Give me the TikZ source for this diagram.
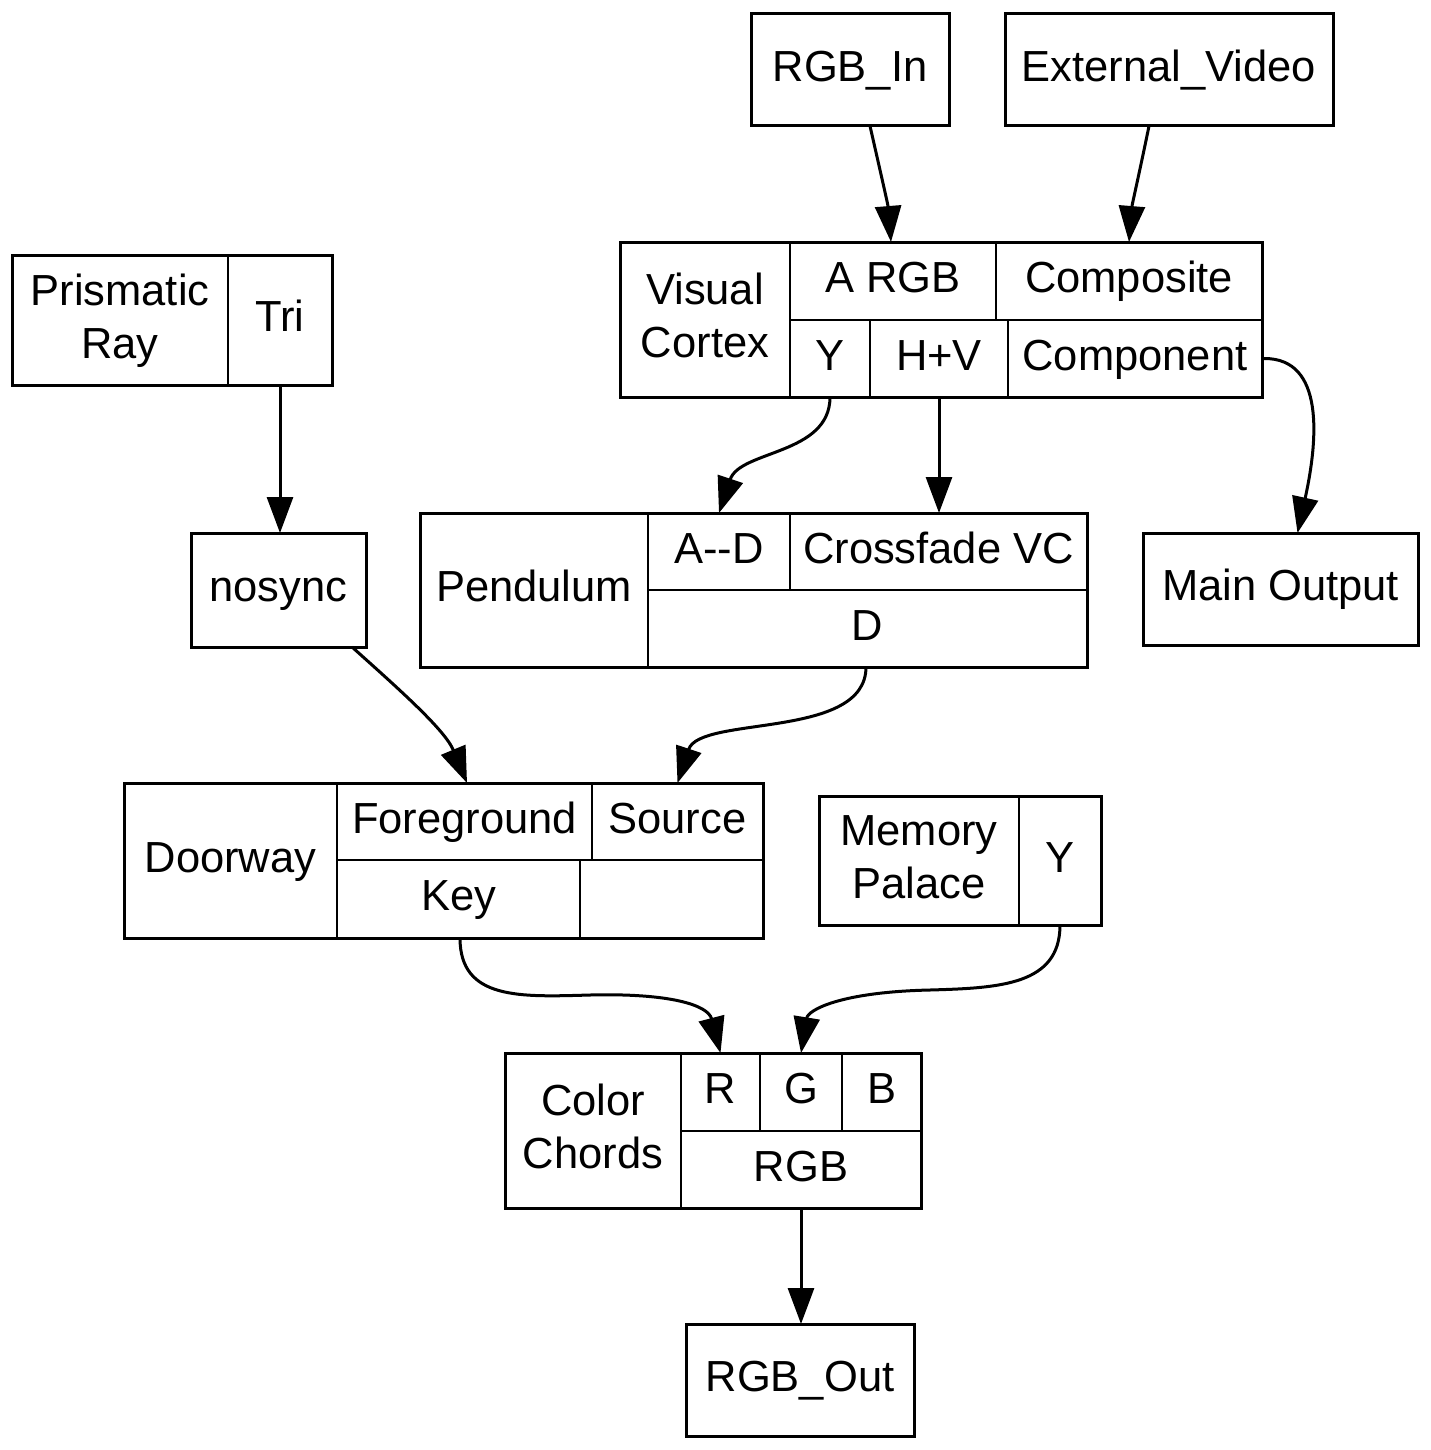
\documentclass[tikz,border=0pt]{standalone}
\usepackage{fontspec}
\setmainfont{Liberation Sans}
\usetikzlibrary{arrows.meta}
\tikzset{
 lbl/.style={inner sep=0pt, outer sep=0pt, align=center, font=\fontsize{43.5}{53}\selectfont, text height=23pt, text depth=0pt},
 two/.style={text height=76pt, text depth=0pt},
 cell/.style={lbl, draw, line width=2pt},
 box/.style={lbl, draw, line width=3pt},
 frame/.style={draw, line width=3pt},
 edge/.style={line width=3pt, -{Triangle[length=36pt,width=26pt]}},
}
\newcommand\cellat[7][]{\node[cell,#1, minimum width={(#4)-(#2)}, minimum height={(#5)-(#3)}] (#6) at ({((#2)+(#4))/2},{((#3)+(#5))/2}) {#7};}
\newcommand\boxat[6]{\node[box, minimum width={(#3)-(#1)}, minimum height={(#4)-(#2)}] (#5) at ({((#1)+(#3))/2},{((#2)+(#4))/2}) {#6};}
\begin{document}
\begin{tikzpicture}[x=1pt,y=-1pt]
\useasboundingbox (0,0) rectangle (1431,1450);
% simple boxes
\boxat{751}{14}{949}{126}{rgbin}{RGB\_In}
\boxat{1005}{14}{1333}{126}{extvid}{External\_Video}
\boxat{191}{533}{366}{647}{nosync}{nosync}
\boxat{1143}{533}{1418}{645}{mainout}{Main Output}
\boxat{686}{1324}{914}{1436}{rgbout}{RGB\_Out}
% Visual Cortex
\cellat[two]{620}{242}{790}{397}{vcL}{Visual\\Cortex}
\cellat{790}{242}{996}{320}{argb}{A RGB}
\cellat{996}{242}{1262}{320}{comp}{Composite}
\cellat{790}{320}{870}{397}{vy}{Y}
\cellat{870}{320}{1008}{397}{hv}{H+V}
\cellat{1008}{320}{1262}{397}{cpnt}{Component}
\draw[frame] (vcL.north west) rectangle (cpnt.south east);
% Prismatic Ray
\cellat[two]{12}{255}{228}{385}{prL}{Prismatic\\Ray}
\cellat{228}{255}{332}{385}{tri}{Tri}
\draw[frame] (prL.north west) rectangle (tri.south east);
% Pendulum
\cellat{420}{513}{648}{667}{pL}{Pendulum}
\cellat{648}{513}{790}{590}{ad}{A-{}-D}
\cellat{790}{513}{1087}{590}{xf}{Crossfade VC}
\cellat{648}{590}{1087}{667}{pd}{D}
\draw[frame] (pL.north west) rectangle (pd.south east);
% Doorway
\cellat{124}{783}{337}{938}{dL}{Doorway}
\cellat{337}{783}{592}{860}{fg}{Foreground}
\cellat{592}{783}{763}{860}{src}{Source}
\cellat{337}{860}{580}{938}{key}{Key}
\cellat{580}{860}{763}{938}{emp}{}
\draw[frame] (dL.north west) rectangle (emp.south east);
% Memory Palace
\cellat[two]{819}{796}{1019}{925}{mpL}{Memory\\Palace}
\cellat{1019}{796}{1101}{925}{my}{Y}
\draw[frame] (mpL.north west) rectangle (my.south east);
% Color Chords
\cellat[two]{505}{1053}{681}{1208}{ccL}{Color\\Chords}
\cellat{681}{1053}{760}{1131}{cr}{R}
\cellat{760}{1053}{842}{1131}{cg}{G}
\cellat{842}{1053}{921}{1131}{cb}{B}
\cellat{681}{1131}{921}{1208}{crgb}{RGB}
\draw[frame] (ccL.north west) rectangle (crgb.south east);
% edges
\draw[edge] ([xshift=20pt]rgbin.south) .. controls (880,170) and (888,205) .. ([xshift=-2pt]argb.north);
\draw[edge] ([xshift=-20pt]extvid.south) .. controls (1140,170) and (1132,205) .. (comp.north);
\draw[edge] ([xshift=2pt]cpnt.east) .. controls (1325,358) and (1318,440) .. ([xshift=17pt]mainout.north);
\draw[edge] (vy.south) .. controls (830,455) and (740,450) .. (ad.north);
\draw[edge] (hv.south) -- (hv.south |- xf.north);
\draw[edge] (tri.south) -- (tri.south |- nosync.north);
\draw[edge] ([xshift=-14pt]nosync.south east) .. controls (400,690) and (445,730) .. ([xshift=2.5pt]fg.north);
\draw[edge] ([xshift=-1.5pt]pd.south) .. controls (866,740) and (700,715) .. (src.north);
\draw[edge] ([xshift=1.5pt]key.south) .. controls (460,1000) and (520,997) .. (590,995) .. controls (670,993) and (708,1005) .. (cr.north);
\draw[edge] (my.south) .. controls (1060,985) and (1000,988) .. (930,990) .. controls (840,992) and (808,1010) .. (cg.north);
\draw[edge] (crgb.south) -- (crgb.south |- rgbout.north);
\end{tikzpicture}
\end{document}
